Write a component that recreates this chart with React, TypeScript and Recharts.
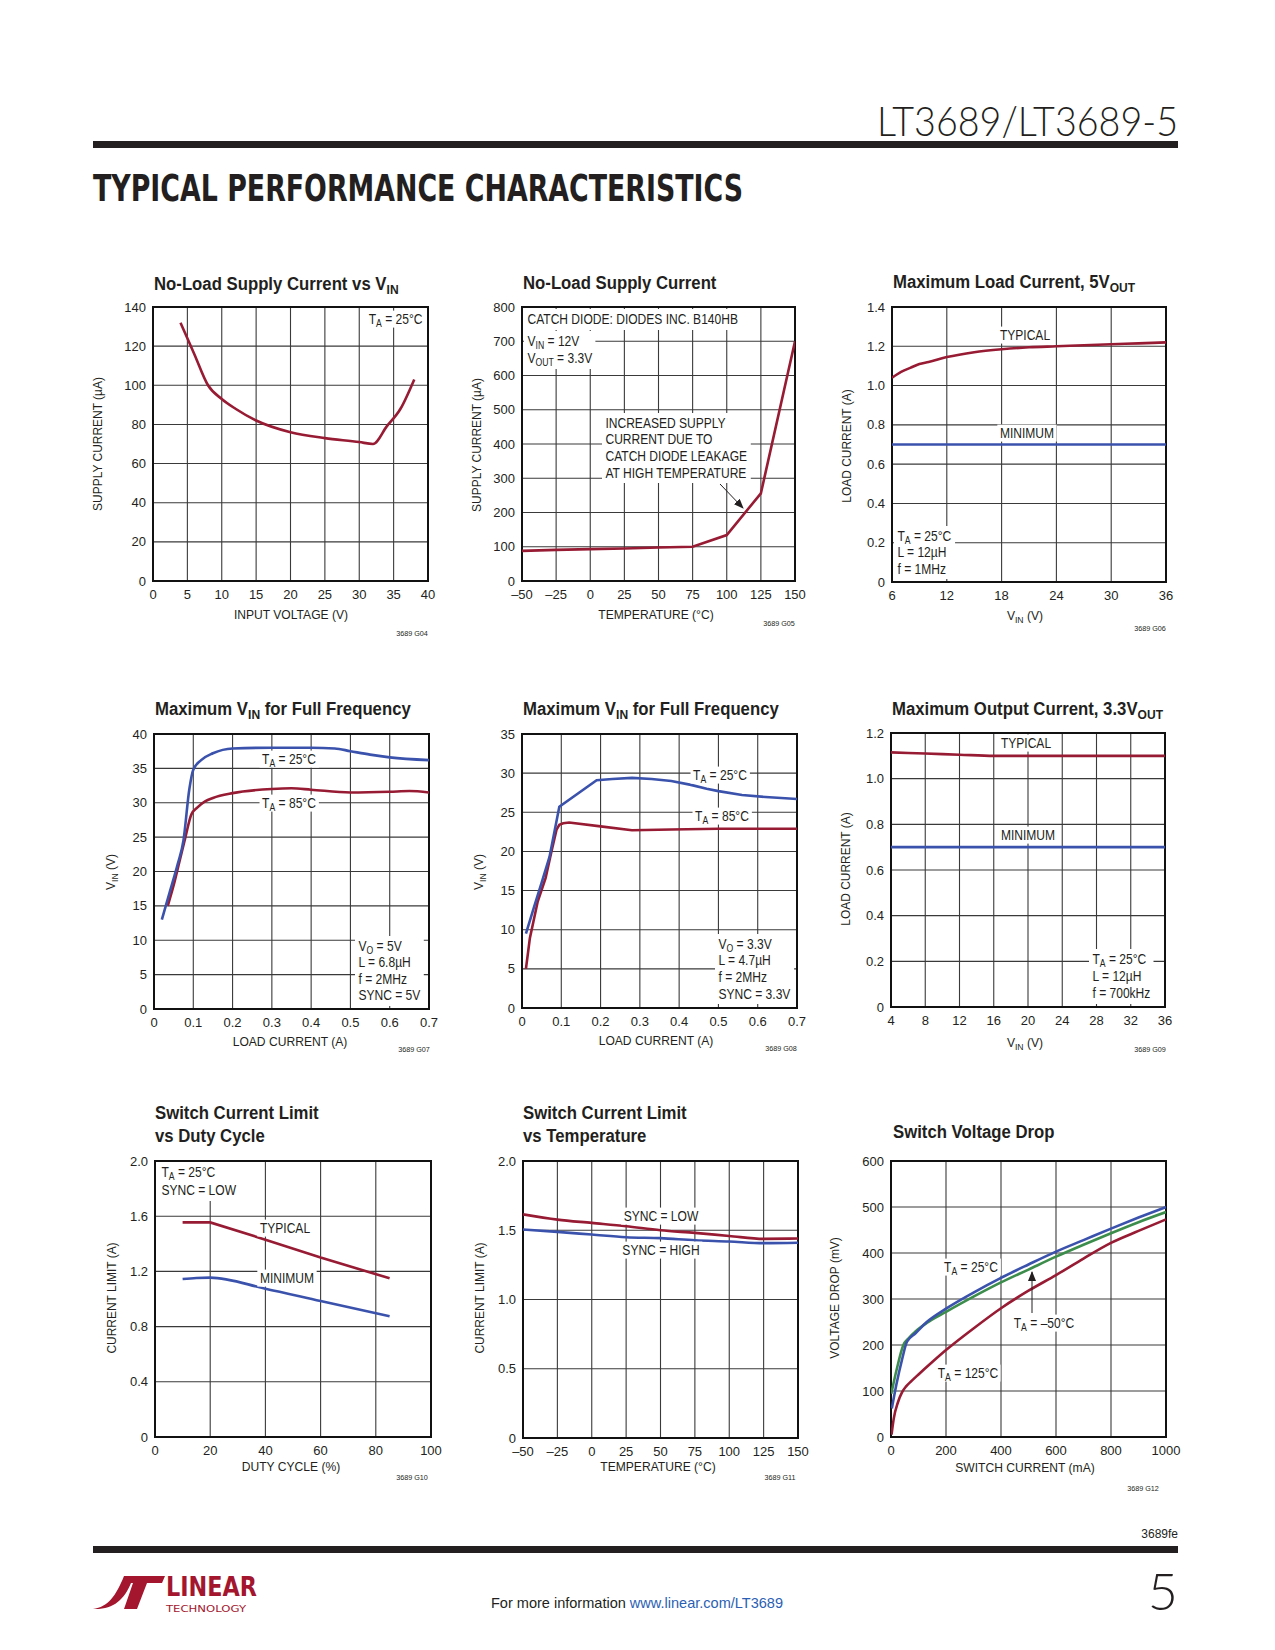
import React from 'react';
import { LineChart, Line, XAxis, YAxis, CartesianGrid, ReferenceArea } from 'recharts';

const FONT = '"Liberation Sans", Arial, Helvetica, sans-serif';
const RED = '#981b34';
const BLUE = '#3b52ad';
const GREEN = '#3c8d4c';
const GRID = '#3a3a3a';
const INK = '#231f20';

// G04 no-load supply current vs VIN
const g04Vin = [4, 6, 8, 10, 12, 15, 20, 25, 30, 32, 34, 36, 38];
const g04Current = [132, 116, 100, 93, 88, 82, 76, 73, 71, 70, 79, 88, 103];
const g04XTicks = [0, 5, 10, 15, 20, 25, 30, 35, 40];
const g04YTicks = [0, 20, 40, 60, 80, 100, 120, 140];

// G05 no-load supply current vs temperature
const g05Temp = [-50, -25, 0, 25, 50, 75, 100, 125, 150];
const g05Current = [88, 91, 93, 95, 98, 100, 134, 256, 700];
const g05XTicks = [-50, -25, 0, 25, 50, 75, 100, 125, 150];
const g05YTicks = [0, 100, 200, 300, 400, 500, 600, 700, 800];

// G06 maximum load current, 5VOUT
const g06Vin = [6, 7, 8, 9, 10, 12, 15, 18, 21, 24, 27, 30, 33, 36];
const g06Typical = [1.04, 1.07, 1.09, 1.11, 1.12, 1.145, 1.17, 1.185, 1.195, 1.2, 1.205, 1.21, 1.215, 1.22];
const g06MinVin = [6, 36];
const g06Minimum = [0.7, 0.7];
const g06XTicks = [6, 12, 18, 24, 30, 36];
const g06YTicks = [0, 0.2, 0.4, 0.6, 0.8, 1.0, 1.2, 1.4];

// G07 maximum VIN for full frequency, VO = 5V
const g07Load25 = [0.02, 0.04, 0.06, 0.075, 0.09, 0.1, 0.12, 0.15, 0.2, 0.3, 0.4, 0.46, 0.5, 0.55, 0.6, 0.7];
const g07Vin25 = [13, 17, 21, 24.5, 32, 34.8, 36.2, 37.2, 37.9, 38, 38, 37.9, 37.5, 37, 36.6, 36.2];
const g07Load85 = [0.035, 0.05, 0.065, 0.08, 0.095, 0.11, 0.13, 0.15, 0.2, 0.3, 0.35, 0.4, 0.5, 0.6, 0.65, 0.7];
const g07Vin85 = [15, 18, 21.5, 25, 28.3, 29.3, 30.2, 30.7, 31.4, 32, 32.1, 31.9, 31.5, 31.6, 31.7, 31.5];
const g07XTicks = [0, 0.1, 0.2, 0.3, 0.4, 0.5, 0.6, 0.7];
const g07YTicks = [0, 5, 10, 15, 20, 25, 30, 35, 40];

// G08 maximum VIN for full frequency, VO = 3.3V
const g08Load25 = [0.01, 0.03, 0.05, 0.07, 0.095, 0.19, 0.23, 0.28, 0.33, 0.38, 0.43, 0.47, 0.5, 0.56, 0.62, 0.7];
const g08Vin25 = [9.5, 12.8, 16, 19.3, 25.7, 29.1, 29.25, 29.4, 29.25, 29.0, 28.5, 28.0, 27.7, 27.2, 26.95, 26.7];
const g08Load85 = [0.01, 0.02, 0.04, 0.06, 0.075, 0.088, 0.095, 0.105, 0.12, 0.2, 0.28, 0.38, 0.5, 0.6, 0.7];
const g08Vin85 = [5, 8.9, 13.6, 16.6, 20, 22.8, 23.4, 23.6, 23.7, 23.2, 22.7, 22.8, 22.9, 22.9, 22.9];
const g08XTicks = [0, 0.1, 0.2, 0.3, 0.4, 0.5, 0.6, 0.7];
const g08YTicks = [0, 5, 10, 15, 20, 25, 30, 35];

// G09 maximum output current, 3.3VOUT
const g09Vin = [4, 8, 12, 16, 20, 24, 28, 32, 36];
const g09Typical = [1.115, 1.11, 1.105, 1.1, 1.1, 1.1, 1.1, 1.1, 1.1];
const g09Minimum = [0.7, 0.7, 0.7, 0.7, 0.7, 0.7, 0.7, 0.7, 0.7];
const g09XTicks = [4, 8, 12, 16, 20, 24, 28, 32, 36];
const g09YTicks = [0, 0.2, 0.4, 0.6, 0.8, 1.0, 1.2];

// G10 switch current limit vs duty cycle
const g10DutyTyp = [10, 20, 40, 60, 85];
const g10Typical = [1.555, 1.555, 1.43, 1.3, 1.15];
const g10DutyMin = [10, 15, 20, 40, 60, 85];
const g10Minimum = [1.145, 1.152, 1.155, 1.075, 0.985, 0.875];
const g10XTicks = [0, 20, 40, 60, 80, 100];
const g10YTicks = [0, 0.4, 0.8, 1.2, 1.6, 2.0];

// G11 switch current limit vs temperature
const g11Temp = [-50, -25, 0, 25, 50, 75, 100, 125, 150];
const g11SyncLow = [1.615, 1.577, 1.553, 1.529, 1.5, 1.481, 1.459, 1.438, 1.44];
const g11SyncHigh = [1.505, 1.488, 1.469, 1.45, 1.443, 1.428, 1.419, 1.407, 1.41];
const g11XTicks = [-50, -25, 0, 25, 50, 75, 100, 125, 150];
const g11YTicks = [0, 0.5, 1.0, 1.5, 2.0];

// G12 switch voltage drop
const g12I25 = [3, 20, 40, 58, 90, 130, 200, 300, 400, 500, 600, 700, 800, 900, 1000];
const g12V25 = [62, 115, 168, 207, 226, 250, 279, 314, 346, 375, 403, 428, 453, 477, 500];
const g12Im50 = [1, 20, 45, 63, 90, 130, 200, 300, 400, 500, 600, 700, 800, 900, 1000];
const g12Vm50 = [94, 145, 200, 214, 230, 248, 272, 305, 336, 364, 392, 418, 443, 467, 489];
const g12I125 = [2, 10, 25, 40, 55, 75, 100, 150, 200, 300, 400, 500, 600, 700, 800, 900, 1000];
const g12V125 = [5, 40, 75, 97, 110, 122, 136, 163, 189, 236, 280, 318, 352, 388, 422, 448, 473];
const g12XTicks = [0, 200, 400, 600, 800, 1000];
const g12YTicks = [0, 100, 200, 300, 400, 500, 600];

const pts = (xs: number[], ys: number[]) => xs.map((x, i) => ({ x, y: ys[i] }));
const dash = (v: number) => (v < 0 ? `\u2013${-v}` : `${v}`);
const dec1 = (v: number) => (v === 0 ? '0' : v.toFixed(1));

interface SeriesDef {
  data: { x: number; y: number }[];
  color: string;
  curve?: 'monotone' | 'linear';
}

interface PlotProps {
  left: number;
  top: number;
  w: number;
  h: number;
  xTicks: number[];
  yTicks: number[];
  series: SeriesDef[];
  xFmt?: (v: number) => string;
  yFmt?: (v: number) => string;
}

const Plot = ({ left, top, w, h, xTicks, yTicks, series, xFmt, yFmt }: PlotProps) => {
  const xDom = [xTicks[0], xTicks[xTicks.length - 1]];
  const yDom = [yTicks[0], yTicks[yTicks.length - 1]];
  const tick = { fill: INK, fontSize: 13, fontFamily: FONT };
  return (
    <div style={{ position: 'absolute', left: left - 60, top: top - 10 }}>
      <LineChart width={w + 95} height={h + 50} margin={{ top: 10, right: 35, bottom: 0, left: 0 }}>
        <CartesianGrid stroke={GRID} strokeWidth={1.1} />
        <XAxis
          type="number"
          dataKey="x"
          domain={xDom}
          ticks={xTicks}
          interval={0}
          allowDataOverflow
          tickLine={false}
          axisLine={false}
          tickSize={0}
          tickMargin={9}
          height={40}
          tick={tick}
          tickFormatter={xFmt}
        />
        <YAxis
          type="number"
          domain={yDom}
          ticks={yTicks}
          interval={0}
          allowDataOverflow
          tickLine={false}
          axisLine={false}
          tickSize={0}
          tickMargin={7}
          width={60}
          tick={tick}
          tickFormatter={yFmt}
        />
        <ReferenceArea x1={xDom[0]} x2={xDom[1]} y1={yDom[0]} y2={yDom[1]} fill="none" fillOpacity={0} stroke="#111" strokeWidth={2} ifOverflow="visible" />
        {series.map((s, i) => (
          <Line
            key={i}
            data={s.data}
            dataKey="y"
            type={s.curve ?? 'monotone'}
            stroke={s.color}
            strokeWidth={2.6}
            dot={false}
            activeDot={false}
            isAnimationActive={false}
          />
        ))}
      </LineChart>
    </div>
  );
};

const Sub = ({ children }: { children: React.ReactNode }) => (
  <span style={{ fontSize: '0.72em', verticalAlign: '-0.3em', lineHeight: 0 }}>{children}</span>
);

interface TxtProps {
  x: number;
  y: number;
  children: React.ReactNode;
  size?: number;
  align?: 'left' | 'center' | 'right';
  weight?: number;
  bg?: boolean;
  rotate?: boolean;
  sx?: number;
}

const Txt = ({ x, y, children, size = 14, align = 'left', weight = 400, bg = false, rotate = false, sx = 0.86 }: TxtProps) => {
  const pad = bg ? 3 : 0;
  const tx = align === 'center' ? '-50%' : align === 'right' ? '-100%' : '0';
  const origin = align === 'center' || rotate ? 'center' : align === 'right' ? 'right center' : 'left center';
  const lx = align === 'left' ? x - pad * sx : align === 'right' ? x + pad * sx : x;
  return (
    <div
      style={{
        position: 'absolute',
        left: lx,
        top: y,
        transform: rotate
          ? `translate(-50%,-50%) rotate(-90deg) scaleX(${sx})`
          : `translate(${tx},-50%) scaleX(${sx})`,
        transformOrigin: origin,
        whiteSpace: 'nowrap',
        fontFamily: FONT,
        fontSize: size,
        fontWeight: weight,
        color: INK,
        lineHeight: 1.2,
        background: bg ? '#fff' : undefined,
        padding: bg ? `0 ${pad}px` : undefined,
      }}
    >
      {children}
    </div>
  );
};

const Block = ({ x, y, lh, lines, size = 14, sx = 0.86 }: { x: number; y: number; lh: number; lines: React.ReactNode[]; size?: number; sx?: number }) => (
  <div
    style={{
      position: 'absolute',
      left: x - 4 * sx,
      top: y - lh / 2 - 2,
      padding: '2px 4px',
      background: '#fff',
      fontFamily: FONT,
      fontSize: size,
      lineHeight: `${lh}px`,
      color: INK,
      whiteSpace: 'nowrap',
      transform: `scaleX(${sx})`,
      transformOrigin: 'left top',
    }}
  >
    {lines.map((l, i) => (
      <div key={i}>{l}</div>
    ))}
  </div>
);

const Title = ({ x, y, children }: { x: number; y: number; children: React.ReactNode }) => (
  <Txt x={x} y={y} size={18} weight={700} sx={0.93}>
    {children}
  </Txt>
);

const YTitle = ({ x, y, children }: { x: number; y: number; children: React.ReactNode }) => (
  <Txt x={x} y={y} size={13} rotate sx={0.92}>
    {children}
  </Txt>
);

const XTitle = ({ x, y, children }: { x: number; y: number; children: React.ReactNode }) => (
  <Txt x={x} y={y} size={13} align="center" sx={0.93}>
    {children}
  </Txt>
);

const Code = ({ x, y, children }: { x: number; y: number; children: React.ReactNode }) => (
  <Txt x={x} y={y} size={8} align="center" sx={0.9}>
    {children}
  </Txt>
);

export default function App() {
  return (
    <div style={{ position: 'absolute', left: 0, top: 0, width: 1275, height: 1650, background: '#fff', overflow: 'hidden' }}>
      {/* row 1 */}
      <Plot left={153} top={307} w={275} h={274} xTicks={g04XTicks} yTicks={g04YTicks}
        series={[{ data: pts(g04Vin, g04Current), color: RED }]} />
      <Plot left={522} top={307} w={273} h={274} xTicks={g05XTicks} yTicks={g05YTicks} xFmt={dash}
        series={[{ data: pts(g05Temp, g05Current), color: RED, curve: 'linear' }]} />
      <Plot left={892} top={307} w={274} h={275} xTicks={g06XTicks} yTicks={g06YTicks} yFmt={dec1}
        series={[
          { data: pts(g06MinVin, g06Minimum), color: BLUE, curve: 'linear' },
          { data: pts(g06Vin, g06Typical), color: RED },
        ]} />

      {/* row 2 */}
      <Plot left={154} top={734} w={275} h={275} xTicks={g07XTicks} yTicks={g07YTicks} xFmt={dec1}
        series={[
          { data: pts(g07Load85, g07Vin85), color: RED },
          { data: pts(g07Load25, g07Vin25), color: BLUE },
        ]} />
      <Plot left={522} top={734} w={275} h={274} xTicks={g08XTicks} yTicks={g08YTicks} xFmt={dec1}
        series={[
          { data: pts(g08Load85, g08Vin85), color: RED, curve: 'linear' },
          { data: pts(g08Load25, g08Vin25), color: BLUE, curve: 'linear' },
        ]} />
      <Plot left={891} top={733} w={274} h={274} xTicks={g09XTicks} yTicks={g09YTicks} yFmt={dec1}
        series={[
          { data: pts(g09Vin, g09Minimum), color: BLUE, curve: 'linear' },
          { data: pts(g09Vin, g09Typical), color: RED },
        ]} />

      {/* row 3 */}
      <Plot left={155} top={1161} w={276} h={276} xTicks={g10XTicks} yTicks={g10YTicks} yFmt={dec1}
        series={[
          { data: pts(g10DutyMin, g10Minimum), color: BLUE },
          { data: pts(g10DutyTyp, g10Typical), color: RED, curve: 'linear' },
        ]} />
      <Plot left={523} top={1161} w={275} h={277} xTicks={g11XTicks} yTicks={g11YTicks} xFmt={dash} yFmt={dec1}
        series={[
          { data: pts(g11Temp, g11SyncHigh), color: BLUE },
          { data: pts(g11Temp, g11SyncLow), color: RED },
        ]} />
      <Plot left={891} top={1161} w={275} h={276} xTicks={g12XTicks} yTicks={g12YTicks}
        series={[
          { data: pts(g12I125, g12V125), color: RED },
          { data: pts(g12Im50, g12Vm50), color: GREEN },
          { data: pts(g12I25, g12V25), color: BLUE },
        ]} />

      {/* titles */}
      <Title x={154} y={285}>No-Load Supply Current vs V<Sub>IN</Sub></Title>
      <Title x={523} y={284}>No-Load Supply Current</Title>
      <Title x={893} y={283}>Maximum Load Current, 5V<Sub>OUT</Sub></Title>
      <Title x={155} y={710}>Maximum V<Sub>IN</Sub> for Full Frequency</Title>
      <Title x={523} y={710}>Maximum V<Sub>IN</Sub> for Full Frequency</Title>
      <Title x={892} y={710}>Maximum Output Current, 3.3V<Sub>OUT</Sub></Title>
      <Title x={155} y={1114}>Switch Current Limit</Title>
      <Title x={155} y={1137}>vs Duty Cycle</Title>
      <Title x={523} y={1114}>Switch Current Limit</Title>
      <Title x={523} y={1137}>vs Temperature</Title>
      <Title x={893} y={1133}>Switch Voltage Drop</Title>

      {/* y axis titles */}
      <YTitle x={98} y={444}>SUPPLY CURRENT (µA)</YTitle>
      <YTitle x={477} y={445}>SUPPLY CURRENT (µA)</YTitle>
      <YTitle x={847} y={446}>LOAD CURRENT (A)</YTitle>
      <YTitle x={111} y={872}>V<Sub>IN</Sub> (V)</YTitle>
      <YTitle x={479} y={872}>V<Sub>IN</Sub> (V)</YTitle>
      <YTitle x={846} y={869}>LOAD CURRENT (A)</YTitle>
      <YTitle x={112} y={1298}>CURRENT LIMIT (A)</YTitle>
      <YTitle x={480} y={1298}>CURRENT LIMIT (A)</YTitle>
      <YTitle x={835} y={1298}>VOLTAGE DROP (mV)</YTitle>

      {/* x axis titles */}
      <XTitle x={291} y={615}>INPUT VOLTAGE (V)</XTitle>
      <XTitle x={656} y={615}>TEMPERATURE (°C)</XTitle>
      <XTitle x={1025} y={616}>V<Sub>IN</Sub> (V)</XTitle>
      <XTitle x={290} y={1042}>LOAD CURRENT (A)</XTitle>
      <XTitle x={656} y={1041}>LOAD CURRENT (A)</XTitle>
      <XTitle x={1025} y={1043}>V<Sub>IN</Sub> (V)</XTitle>
      <XTitle x={291} y={1467}>DUTY CYCLE (%)</XTitle>
      <XTitle x={658} y={1467}>TEMPERATURE (°C)</XTitle>
      <XTitle x={1025} y={1468}>SWITCH CURRENT (mA)</XTitle>

      {/* figure codes */}
      <Code x={412} y={634}>3689 G04</Code>
      <Code x={779} y={624}>3689 G05</Code>
      <Code x={1150} y={629}>3689 G06</Code>
      <Code x={414} y={1050}>3689 G07</Code>
      <Code x={781} y={1049}>3689 G08</Code>
      <Code x={1150} y={1050}>3689 G09</Code>
      <Code x={412} y={1478}>3689 G10</Code>
      <Code x={780} y={1478}>3689 G11</Code>
      <Code x={1143} y={1489}>3689 G12</Code>

      {/* annotations */}
      <Txt x={422} y={319} align="right" bg>T<Sub>A</Sub> = 25°C</Txt>

      <Block x={527} y={319} lh={17} lines={['CATCH DIODE: DIODES INC. B140HB']} />
      <Block x={527} y={341} lh={17} lines={[<>V<Sub>IN</Sub> = 12V</>, <>V<Sub>OUT</Sub> = 3.3V</>]} />
      <Block x={605} y={423} lh={16.7} lines={['INCREASED SUPPLY', 'CURRENT DUE TO', 'CATCH DIODE LEAKAGE', 'AT HIGH TEMPERATURE']} />

      <Txt x={1025} y={335} align="center" bg>TYPICAL</Txt>
      <Txt x={1027} y={433} align="center" bg>MINIMUM</Txt>
      <Block x={897} y={536} lh={16.5} lines={[<>T<Sub>A</Sub> = 25°C</>, 'L = 12µH', 'f = 1MHz']} />

      <Txt x={289} y={759} align="center" bg>T<Sub>A</Sub> = 25°C</Txt>
      <Txt x={289} y={803} align="center" bg>T<Sub>A</Sub> = 85°C</Txt>
      <Block x={358} y={946} lh={16.6} lines={[<>V<Sub>O</Sub> = 5V</>, 'L = 6.8µH', 'f = 2MHz', 'SYNC = 5V']} />

      <Txt x={720} y={775} align="center" bg>T<Sub>A</Sub> = 25°C</Txt>
      <Txt x={722} y={816} align="center" bg>T<Sub>A</Sub> = 85°C</Txt>
      <Block x={718} y={944} lh={16.7} lines={[<>V<Sub>O</Sub> = 3.3V</>, 'L = 4.7µH', 'f = 2MHz', 'SYNC = 3.3V']} />

      <Txt x={1026} y={743} align="center" bg>TYPICAL</Txt>
      <Txt x={1028} y={835} align="center" bg>MINIMUM</Txt>
      <Block x={1092} y={959} lh={17} lines={[<>T<Sub>A</Sub> = 25°C</>, 'L = 12µH', 'f = 700kHz']} />

      <Block x={161} y={1173} lh={17.5} lines={[<>T<Sub>A</Sub> = 25°C</>, 'SYNC = LOW']} />
      <Txt x={285} y={1228} align="center" bg>TYPICAL</Txt>
      <Txt x={287} y={1278} align="center" bg>MINIMUM</Txt>

      <Txt x={661} y={1216} align="center" bg>SYNC = LOW</Txt>
      <Txt x={661} y={1250} align="center" bg>SYNC = HIGH</Txt>

      <Txt x={971} y={1267} align="center" bg>T<Sub>A</Sub> = 25°C</Txt>
      <Txt x={1044} y={1323} align="center" bg>T<Sub>A</Sub> = –50°C</Txt>
      <Txt x={968} y={1373} align="center" bg>T<Sub>A</Sub> = 125°C</Txt>

      {/* page furniture */}
      <svg width={1275} height={1650} style={{ position: 'absolute', left: 0, top: 0, pointerEvents: 'none' }}>
        <defs>
          <marker id="ah" markerWidth={10} markerHeight={8} refX={9} refY={4} orient="auto" markerUnits="userSpaceOnUse">
            <path d="M0,0 L10,4 L0,8 Z" fill={INK} />
          </marker>
        </defs>
        <line x1={720} y1={484} x2={743} y2={508} stroke={INK} strokeWidth={1} markerEnd="url(#ah)" />
        <line x1={1032} y1={1313} x2={1032} y2={1272} stroke={INK} strokeWidth={1} markerEnd="url(#ah)" />

        <text x={1178} y={136} textAnchor="end" fontFamily="Lato, 'Open Sans', sans-serif" fontWeight={300} fontSize={42}
          textLength={301} lengthAdjust="spacingAndGlyphs" fill={INK}>LT3689/LT3689-5</text>
        <rect x={93} y={141} width={1085} height={7} fill={INK} />
        <text x={93} y={201} fontFamily="'DejaVu Sans', sans-serif" fontWeight={700} fontSize={38}
          textLength={650} lengthAdjust="spacingAndGlyphs" fill={INK}>TYPICAL PERFORMANCE CHARACTERISTICS</text>

        <text x={1178} y={1538} textAnchor="end" fontFamily={FONT} fontSize={12} fill={INK}>3689fe</text>
        <rect x={93} y={1546} width={1085} height={7} fill={INK} />
        <text x={637} y={1608} textAnchor="middle" fontFamily={FONT} fontSize={15} fill={INK}
          textLength={292} lengthAdjust="spacingAndGlyphs">
          For more information <tspan fill="#2b5fb4">www.linear.com/LT3689</tspan>
        </text>
        <text x={1178} y={1610} textAnchor="end" fontFamily="Lato, 'Open Sans', sans-serif" fontWeight={300} fontSize={52} fill={INK}>5</text>

        <g fill="#a3162e">
          <path d="M93,1609 C108,1607 116,1596 124,1576 L165,1576 L162,1583 L147,1583 L137,1609 L124,1609 L133,1583 L131,1583 C124,1600 113,1610 93,1609 Z" />
          <text x={166} y={1596} fontFamily="'DejaVu Sans', sans-serif" fontWeight={700} fontSize={27}
            textLength={91} lengthAdjust="spacingAndGlyphs">LINEAR</text>
          <text x={166} y={1612} fontFamily="'DejaVu Sans', sans-serif" fontSize={8}
            textLength={80} lengthAdjust="spacingAndGlyphs">TECHNOLOGY</text>
        </g>
      </svg>
    </div>
  );
}
